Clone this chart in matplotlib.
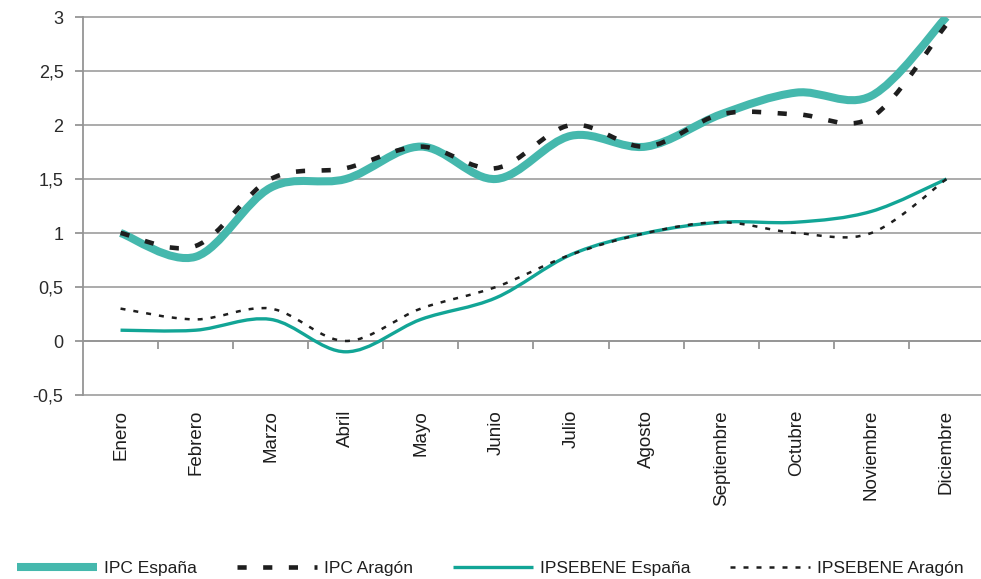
import numpy as np
import matplotlib
matplotlib.use("Agg")
import matplotlib.pyplot as plt
from matplotlib.path import Path
from matplotlib.patches import PathPatch
from matplotlib.lines import Line2D

plt.rcParams['font.family'] = ['Liberation Sans', 'DejaVu Sans']

months = ["Enero", "Febrero", "Marzo", "Abril", "Mayo", "Junio", "Julio",
          "Agosto", "Septiembre", "Octubre", "Noviembre", "Diciembre"]
ipc_espana = [1.0, 0.78, 1.42, 1.5, 1.8, 1.5, 1.9, 1.8, 2.1, 2.3, 2.27, 3.0]
ipc_aragon = [1.0, 0.88, 1.5, 1.6, 1.8, 1.6, 2.0, 1.8, 2.1, 2.1, 2.07, 2.93]
ipsebene_espana = [0.1, 0.1, 0.2, -0.1, 0.2, 0.4, 0.8, 1.0, 1.1, 1.1, 1.2, 1.5]
ipsebene_aragon = [0.3, 0.2, 0.3, 0.0, 0.3, 0.5, 0.8, 1.0, 1.1, 1.0, 1.0, 1.5]
yticks = [-0.5, 0, 0.5, 1, 1.5, 2, 2.5, 3]
ytick_labels = ["-0,5", "0", "0,5", "1", "1,5", "2", "2,5", "3"]

teal_thick = "#45b8ad"
teal_thin = "#12a596"
dark = "#1e1e1e"
grid_c = "#959595"


def smooth_path(x, y):
    pts = np.column_stack([x, y]).astype(float)
    n = len(pts)
    verts = [pts[0]]
    codes = [Path.MOVETO]
    for i in range(n - 1):
        p0 = pts[i - 1] if i > 0 else pts[i]
        p1 = pts[i]
        p2 = pts[i + 1]
        p3 = pts[i + 2] if i + 2 < n else pts[i + 1]
        c1 = p1 + (p2 - p0) / 6.0
        c2 = p2 - (p3 - p1) / 6.0
        verts += [c1, c2, p2]
        codes += [Path.CURVE4] * 3
    return Path(verts, codes)


fig = plt.figure(figsize=(9.81, 5.79), dpi=100)
ax = fig.add_axes([83 / 981, 1 - 395 / 579, 901 / 981, (395 - 17) / 579])
ax.set_xlim(-0.5, 11.5)
ax.set_ylim(-0.5, 3)

# grid
for v in yticks:
    ax.axhline(v, color=grid_c, lw=1.1, zorder=1, clip_on=False)

x = np.arange(len(months))
styles = [
    (ipc_espana, dict(color=teal_thick, lw=5.8, ls="-"), "IPC España"),
    (ipc_aragon, dict(color=dark, lw=3.3, ls=(0, (2.0, 3.6))), "IPC Aragón"),
    (ipsebene_espana, dict(color=teal_thin, lw=2.4, ls="-"), "IPSEBENE España"),
    (ipsebene_aragon, dict(color=dark, lw=1.8, ls=(0, (2.0, 3.2))), "IPSEBENE Aragón"),
]
order = [2, 3, 0, 1]
handles = []
for k, (vals, st, lab) in enumerate(styles):
    patch = PathPatch(smooth_path(x, vals), fill=False, edgecolor=st["color"],
                      lw=st["lw"], linestyle=st["ls"], capstyle="butt",
                      joinstyle="round", zorder=3 + order[k])
    ax.add_patch(patch)
    handles.append(Line2D([], [], color=st["color"], lw=st["lw"], ls=st["ls"],
                          solid_capstyle="butt", dash_capstyle="butt", label=lab))

# spines / axes
for s in ["top", "right"]:
    ax.spines[s].set_visible(False)
ax.spines["left"].set_color(grid_c)
ax.spines["left"].set_linewidth(1.3)
ax.spines["bottom"].set_position(("data", 0))
ax.spines["bottom"].set_color(grid_c)
ax.spines["bottom"].set_linewidth(1.3)

ax.set_yticks(yticks)
ax.set_yticklabels(ytick_labels)
ax.tick_params(axis="y", length=6, width=1.3, color=grid_c, pad=8,
               labelsize=13, labelcolor="#2a2a2a")
ax.set_xticks(np.arange(0.5, 11.5, 1.0))
ax.set_xticklabels([])
ax.tick_params(axis="x", length=6, width=1.3, color=grid_c, direction="out")

for i, m in enumerate(months):
    ax.text(i, -0.64, m, rotation=90, ha="center", va="top", fontsize=13.5,
            color="#1e1e1e", clip_on=False)

fig.legend(handles=handles, loc="center", bbox_to_anchor=(0.5, 0.018), ncol=4,
           frameon=False, fontsize=12.5, handlelength=4.6, handletextpad=0.4,
           columnspacing=2.3, labelcolor="#1e1e1e")

fig.savefig("out.png", dpi=100)
